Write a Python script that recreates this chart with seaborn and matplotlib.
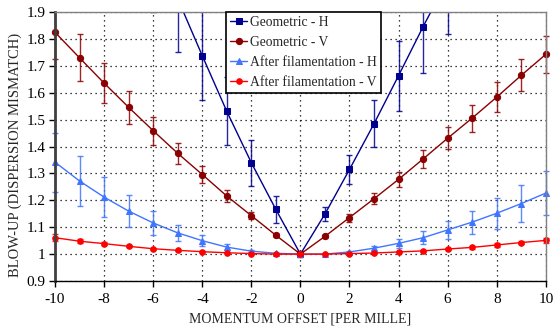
import matplotlib
matplotlib.use('Agg')
import matplotlib.pyplot as plt
from matplotlib.patches import Rectangle
from matplotlib.ticker import FormatStrFormatter, MultipleLocator
import numpy as np
import pandas as pd
import seaborn as sns

# 讀圖估計的數據
offset = list(range(-10, 11))

geo_h_x = list(range(-6, 7))
geo_h = [2.16, 1.95, 1.738, 1.531, 1.34, 1.166, 1.0, 1.149, 1.315, 1.485, 1.664, 1.846, 2.02]
geo_h_err = [0.26, 0.20, 0.166, 0.127, 0.086, 0.05, 0.01, 0.026, 0.053, 0.088, 0.13, 0.173, 0.20]

geo_v = [1.825, 1.73, 1.636, 1.546, 1.459, 1.375, 1.296, 1.216, 1.143, 1.07, 1.0,
         1.066, 1.136, 1.206, 1.278, 1.354, 1.431, 1.506, 1.584, 1.665, 1.743]
geo_v_err = [0.10, 0.087, 0.073, 0.062, 0.052, 0.04, 0.032, 0.022, 0.013, 0.006, 0.003,
             0.005, 0.015, 0.021, 0.029, 0.035, 0.04, 0.05, 0.056, 0.06, 0.07]

fil_h = [1.342, 1.272, 1.212, 1.16, 1.116, 1.079, 1.05, 1.026, 1.011, 1.003, 1.0,
         1.0, 1.008, 1.022, 1.04, 1.061, 1.09, 1.119, 1.152, 1.188, 1.227]
fil_h_err = [0.11, 0.093, 0.075, 0.059, 0.044, 0.031, 0.02, 0.012, 0.005, 0.002, 0.001,
             0.001, 0.004, 0.008, 0.016, 0.024, 0.034, 0.043, 0.057, 0.07, 0.082]

fil_v = [1.061, 1.048, 1.039, 1.029, 1.02, 1.014, 1.009, 1.005, 1.002, 1.0, 1.0,
         1.0, 1.002, 1.004, 1.008, 1.012, 1.019, 1.025, 1.034, 1.043, 1.051]
fil_v_err = [0.013, 0.008, 0.006, 0.004, 0.003, 0.002, 0.002, 0.001, 0.001, 0.001, 0.001,
             0.001, 0.001, 0.001, 0.002, 0.003, 0.004, 0.005, 0.006, 0.007, 0.008]

sns.set_theme(style='white')
plt.rcParams['font.family'] = ['Liberation Serif', 'DejaVu Serif']
plt.rcParams['axes.unicode_minus'] = False

fig = plt.figure(figsize=(5.53, 3.28), dpi=100)
ax = fig.add_axes([0.0995, 0.1433, 0.8875, 0.8197])

series = [
    ('Geometric - H', geo_h_x, geo_h, geo_h_err, '#000090', 's', 5),
    ('Geometric - V', offset, geo_v, geo_v_err, '#8B0000', 'o', 4.5),
    ('After filamentation - H', offset, fil_h, fil_h_err, '#3F75FF', '^', 4.5),
    ('After filamentation - V', offset, fil_v, fil_v_err, '#FF0000', 'o', 4),
]

# 只在上下方向裁切，左右兩端的點和誤差棒完整顯示
clip = Rectangle((-0.03, 0.0), 1.06, 1.0, transform=ax.transAxes,
                 facecolor='none', edgecolor='none')

for name, xs, ys, errs, color, mk, ms in series:
    df = pd.DataFrame({'x': xs, 'y': ys})
    sns.lineplot(data=df, x='x', y='y', ax=ax, color=color, marker=mk,
                 markersize=ms, markeredgecolor=color, linewidth=1.0, label=name)
    eb = ax.errorbar(xs, ys, yerr=errs, fmt='none', ecolor=color, elinewidth=1.0,
                     capsize=2.5, capthick=1.0, alpha=0.85)
    for art in eb.lines[1] + eb.lines[2]:
        art.set_clip_path(clip)

for line in ax.lines:
    line.set_clip_path(clip)

ax.set_xlim(-10, 10)
ax.set_ylim(0.9, 1.9)
ax.xaxis.set_major_locator(MultipleLocator(2))
ax.yaxis.set_major_locator(MultipleLocator(0.1))
ax.yaxis.set_major_formatter(FormatStrFormatter('%g'))
ax.xaxis.set_major_formatter(FormatStrFormatter('%d'))
ax.grid(True, color='black', linestyle=(0, (1, 3)), linewidth=0.9)
ax.tick_params(axis='both', which='major', labelsize=11, direction='out',
               length=4, width=1, colors='black', left=True, bottom=True)
ax.tick_params(axis='x', pad=5)
ax.tick_params(axis='y', pad=3)

for side in ['top', 'right']:
    ax.spines[side].set_color('#808080')
    ax.spines[side].set_linewidth(1.0)
ax.spines['left'].set_color('#404040')
ax.spines['left'].set_linewidth(2.0)
ax.spines['bottom'].set_color('black')
ax.spines['bottom'].set_linewidth(1.0)

ax.set_xlabel('MOMENTUM OFFSET [PER MILLE]', fontsize=10, labelpad=4)
ax.set_ylabel('BLOW-UP (DISPERSION MISMATCH)', fontsize=10.5, labelpad=4)
ax.yaxis.set_label_coords(-0.068, 0.47)

leg = ax.legend(loc='upper right', bbox_to_anchor=(0.664, 1.0), borderaxespad=0,
                fontsize=9.8, frameon=True, fancybox=False, handlelength=1.3,
                handletextpad=0.2, labelspacing=0.5, borderpad=0.3)
leg.get_frame().set_edgecolor('black')
leg.get_frame().set_linewidth(1.2)
leg.get_frame().set_alpha(1)

fig.savefig('out.png', dpi=100)
